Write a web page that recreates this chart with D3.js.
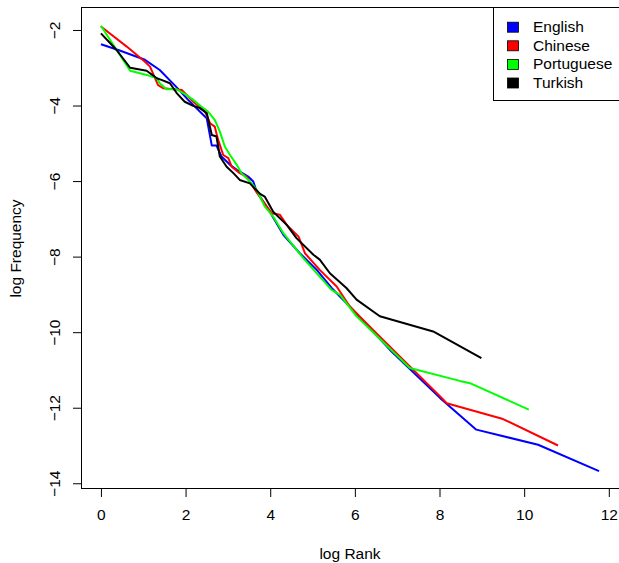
<!DOCTYPE html>
<html>
<head>
<meta charset="utf-8">
<script src="https://cdn.jsdelivr.net/npm/d3@7"></script>
<style>
  body { margin: 0; background: #fff; }
  text { font-family: "Liberation Sans", Arial, sans-serif; font-size: 15.5px; fill: #000; }
</style>
</head>
<body>
<svg id="chart" width="619" height="563"></svg>
<script>
// log rank / log frequency
const english = [
  [0, -2.38], [0.41, -2.53], [1.04, -2.79], [1.39, -3.06], [1.79, -3.52], [2.06, -3.85],
  [2.42, -4.25], [2.5, -4.34], [2.62, -5.06], [2.73, -5.06], [2.85, -5.35], [3.05, -5.57],
  [3.21, -5.7], [3.48, -5.88], [3.6, -6.01], [3.68, -6.28], [3.99, -6.81], [4.31, -7.42],
  [4.7, -7.91], [5.1, -8.35], [5.45, -8.83], [5.88, -9.32], [6.83, -10.47], [8.01, -11.74],
  [8.87, -12.58], [10.33, -12.98], [11.77, -13.68]
];
const chinese = [
  [0, -1.91], [0.61, -2.44], [1.04, -2.84], [1.16, -2.97], [1.35, -3.46], [1.47, -3.54],
  [1.91, -3.59], [1.98, -3.67], [2.18, -3.9], [2.46, -4.16], [2.58, -4.47], [2.69, -4.56],
  [2.77, -4.91], [2.89, -5.31], [3.01, -5.39], [3.09, -5.62], [3.28, -5.79], [3.44, -5.88],
  [3.68, -6.3], [4.03, -6.85], [4.23, -6.89], [4.39, -7.16], [4.67, -7.47], [4.82, -7.91],
  [5.17, -8.35], [5.57, -8.79], [5.88, -9.32], [6.43, -9.94], [8.05, -11.74], [8.17, -11.88],
  [9.5, -12.3], [10.8, -13.0]
];
const portuguese = [
  [0, -1.89], [0.69, -3.08], [1.08, -3.19], [1.32, -3.28], [1.39, -3.41], [1.55, -3.57],
  [1.79, -3.57], [2.02, -3.72], [2.18, -3.85], [2.42, -4.07], [2.53, -4.16], [2.69, -4.38],
  [2.81, -4.69], [2.93, -5.09], [3.05, -5.31], [3.21, -5.57], [3.32, -5.79], [3.52, -6.01],
  [3.68, -6.23], [3.87, -6.67], [4.07, -6.94], [4.31, -7.38], [4.78, -8.04], [5.45, -8.88],
  [5.65, -9.01], [6.04, -9.58], [7.3, -10.95], [8.48, -11.29], [8.72, -11.35], [10.11, -12.05]
];
const turkish = [
  [0, -2.09], [0.37, -2.53], [0.69, -3.0], [1.08, -3.08], [1.32, -3.28], [1.43, -3.32],
  [1.63, -3.41], [1.79, -3.67], [1.98, -3.9], [2.18, -4.01], [2.34, -4.07], [2.5, -4.2],
  [2.62, -4.78], [2.73, -4.82], [2.81, -5.35], [2.97, -5.62], [3.13, -5.79], [3.28, -5.97],
  [3.52, -6.06], [3.76, -6.34], [3.87, -6.41], [4.07, -6.81], [4.39, -7.16], [4.62, -7.51],
  [5.02, -7.95], [5.17, -8.08], [5.41, -8.44], [5.8, -8.83], [6.04, -9.14], [6.59, -9.58],
  [7.85, -9.98], [8.99, -10.69]
];
const languages = ["English", "Chinese", "Portuguese", "Turkish"];
const colors = ["#0000ff", "#ff0000", "#00ff00", "#000000"];
const xTicks = [0, 2, 4, 6, 8, 10, 12];
const yTicks = [-2, -4, -6, -8, -10, -12, -14];

const seriesList = [english, chinese, portuguese, turkish];
const svg = d3.select("#chart");
const box = { left: 81, right: 619, top: 8, bottom: 489 };

// R style: pad the data range by 4% on each side
const all = seriesList.flat();
const pad = ([a, b]) => [a - (b - a) * 0.04, b + (b - a) * 0.04];
const x = d3.scaleLinear().domain(pad(d3.extent(all, d => d[0]))).range([box.left, box.right]);
const y = d3.scaleLinear().domain(pad(d3.extent(all, d => d[1]))).range([box.bottom, box.top]);

const fmt = v => String(v).replace("-", "\u2212");

const line = d3.line().x(d => x(d[0])).y(d => y(d[1]));
svg.append("g").selectAll("path")
  .data(seriesList)
  .join("path")
  .attr("d", line)
  .attr("fill", "none")
  .attr("stroke", (d, i) => colors[i])
  .attr("stroke-width", 2)
  .attr("stroke-linejoin", "round");

svg.append("rect")
  .attr("x", box.left + 0.5).attr("y", box.top - 0.5)
  .attr("width", box.right - box.left).attr("height", box.bottom - box.top)
  .attr("fill", "none").attr("stroke", "#000");

const xAxis = svg.append("g").attr("transform", `translate(0,${box.bottom})`)
  .call(d3.axisBottom(x).tickValues(xTicks).tickSize(8).tickPadding(6).tickFormat(fmt));
xAxis.select(".domain").remove();
xAxis.selectAll("text").attr("font-size", null).attr("font-family", null).attr("dy", "1.1em");

const yAxis = svg.append("g").attr("transform", `translate(${box.left},0)`)
  .call(d3.axisLeft(y).tickValues(yTicks).tickSize(8).tickFormat(fmt));
yAxis.select(".domain").remove();
yAxis.selectAll("text")
  .attr("font-size", null).attr("font-family", null)
  .attr("x", null).attr("dy", null)
  .attr("text-anchor", "middle")
  .attr("transform", "translate(-21,0) rotate(-90)");

svg.append("text").attr("x", (box.left + box.right) / 2).attr("y", 559)
  .attr("text-anchor", "middle").text("log Rank");
svg.append("text").attr("transform", `translate(21,${(box.top + box.bottom) / 2}) rotate(-90)`)
  .attr("text-anchor", "middle").text("log Frequency");

// legend
const lg = svg.append("g");
lg.append("rect").attr("x", 493.5).attr("y", box.top - 0.5)
  .attr("width", 130).attr("height", 93).attr("fill", "#fff").attr("stroke", "#000");
const item = lg.selectAll("g.item").data(languages).join("g")
  .attr("class", "item")
  .attr("transform", (d, i) => `translate(0,${26.7 + i * 18.6})`);
item.append("rect").attr("x", 507.5).attr("y", -4.5).attr("width", 11).attr("height", 10)
  .attr("fill", (d, i) => colors[i]).attr("stroke", "#000").attr("stroke-width", 0.8);
item.append("text").attr("x", 533).attr("dy", "0.36em").text(d => d);
</script>
</body>
</html>
